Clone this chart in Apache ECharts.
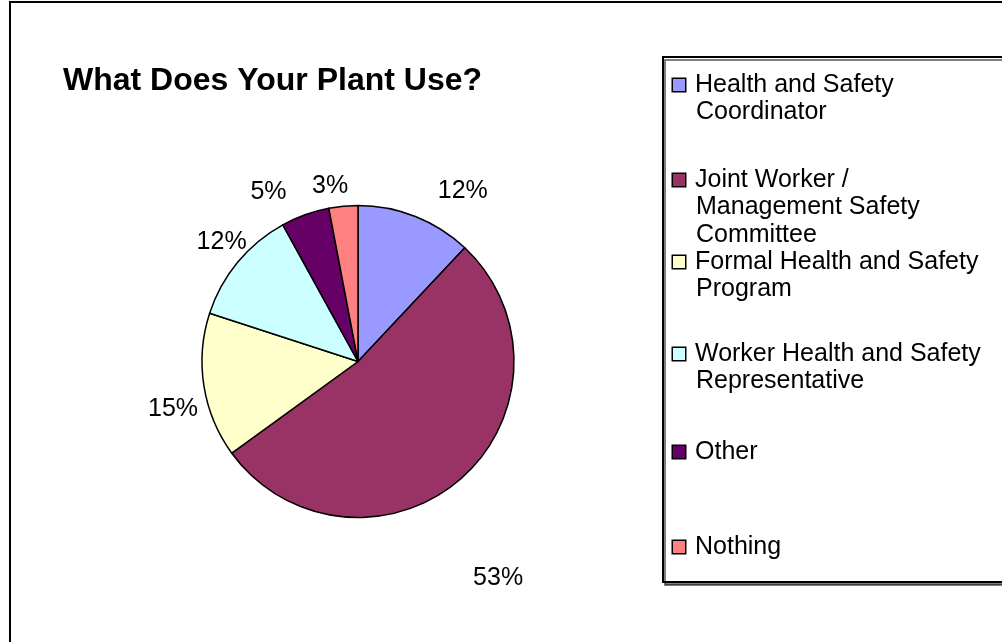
<!DOCTYPE html>
<html>
<head>
<meta charset="utf-8">
<script src="https://cdn.jsdelivr.net/npm/echarts@6/dist/echarts.min.js"></script>
<style>
html, body { margin: 0; padding: 0; background: #fff; }
#c { width: 1002px; height: 642px; }
</style>
</head>
<body>
<div id="c"></div>
<script>
// ---- data ----
const chartTitle = 'What Does Your Plant Use?';
const categories = [
  'Health and Safety Coordinator',
  'Joint Worker / Management Safety Committee',
  'Formal Health and Safety Program',
  'Worker Health and Safety Representative',
  'Other',
  'Nothing'
];
const values = [12, 53, 15, 12, 5, 3];
const legendLines = [
  ['Health and Safety', 'Coordinator'],
  ['Joint Worker /', 'Management Safety', 'Committee'],
  ['Formal Health and Safety', 'Program'],
  ['Worker Health and Safety', 'Representative'],
  ['Other'],
  ['Nothing']
];
const colors = ['#9999FF', '#993366', '#FFFFCC', '#CCFFFF', '#660066', '#FF8080'];

// ---- layout / style (not data) ----
const FONT = '"Liberation Sans", Arial, sans-serif';
const CX = 358, CY = 361.5, RADIUS = 156;
// label placement: distance from pie centre and angular nudge (deg) from slice mid-angle
const labelDist = [200, 258, 191, 181, 192, 178];
const labelNudge = [10, 8.5, -5.5, 1.5, -8, -3.6];
const LH = 27.5;
const legendRowY = [85, 180, 262, 354, 452, 547];

const rich = {
  t: { fontSize: 25, fontFamily: FONT, color: '#000', lineHeight: LH },
  g: { width: 10, lineHeight: LH },
  ind: { width: 23, lineHeight: LH }
};
colors.forEach((c, i) => {
  rich['m' + i] = { width: 12, height: 12, backgroundColor: c, borderColor: '#000', borderWidth: 1.5, lineHeight: LH };
});

const legends = categories.map((name, i) => ({
  data: [name],
  orient: 'vertical',
  left: 668,
  top: legendRowY[i] - LH / 2,
  padding: 0,
  icon: 'none',
  itemWidth: 0,
  itemHeight: LH,
  formatter: () => legendLines[i].map((l, k) => (k === 0 ? '{m' + i + '| }{g| }' : '{ind| }') + '{t|' + l + '}').join('\n'),
  textStyle: { rich: rich, fontSize: 25, fontFamily: FONT, lineHeight: LH, color: '#000' }
}));

const chart = echarts.init(document.getElementById('c'), null, { renderer: 'canvas' });
chart.setOption({
  animation: false,
  backgroundColor: '#fff',
  title: {
    text: chartTitle,
    left: 63,
    top: 65,
    padding: 0,
    textStyle: { fontFamily: FONT, fontWeight: 'bold', fontSize: 32, color: '#000' }
  },
  graphic: [
    { type: 'rect', silent: true, z: 0, shape: { x: 10, y: 2, width: 1100, height: 800 },
      style: { fill: 'none', stroke: '#000', lineWidth: 2 } },
    { type: 'rect', silent: true, z: 0, shape: { x: 663, y: 57, width: 400, height: 525 },
      style: { fill: '#fff', stroke: '#000', lineWidth: 2, shadowColor: 'rgba(0,0,0,0.5)', shadowOffsetX: 2, shadowOffsetY: 3, shadowBlur: 0 } }
  ],
  legend: legends,
  series: [{
    type: 'pie',
    center: [CX, CY],
    radius: RADIUS,
    startAngle: 90,
    clockwise: true,
    avoidLabelOverlap: false,
    data: categories.map((n, i) => ({ name: n, value: values[i], itemStyle: { color: colors[i] } })),
    itemStyle: { borderColor: '#000', borderWidth: 1.5 },
    label: {
      show: true,
      position: 'outside',
      formatter: p => Math.round(p.percent) + '%',
      fontFamily: FONT, fontSize: 25, color: '#000'
    },
    labelLine: { show: true, length: 10, length2: 0, lineStyle: { opacity: 0 } },
    labelLayout: function (params) {
      const pts = params.labelLinePoints;
      if (!pts) return {};
      const mid = Math.atan2(pts[0][0] - CX, -(pts[0][1] - CY));
      const a = mid + labelNudge[params.dataIndex] * Math.PI / 180;
      const d = labelDist[params.dataIndex];
      return { x: CX + d * Math.sin(a), y: CY - d * Math.cos(a), align: 'center', verticalAlign: 'middle', hideOverlap: false };
    },
    emphasis: { scale: false }
  }]
});
</script>
</body>
</html>
